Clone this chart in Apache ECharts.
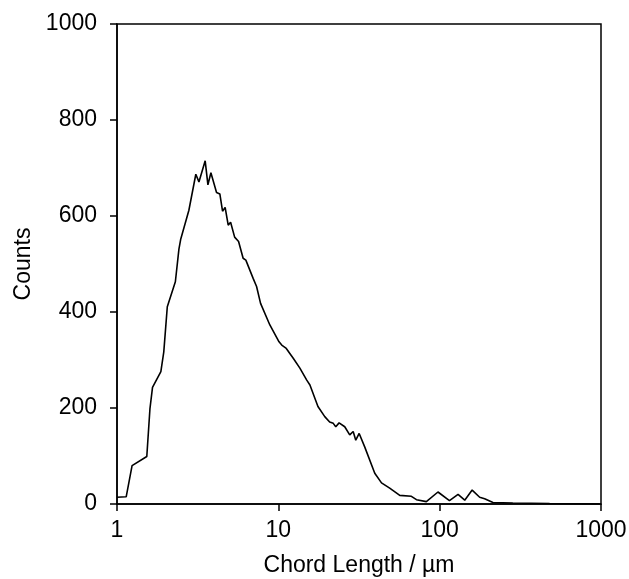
<!DOCTYPE html>
<html>
<head>
<meta charset="utf-8">
<script src="https://cdn.jsdelivr.net/npm/echarts@6/dist/echarts.min.js"></script>
<style>
	html, body { margin: 0; padding: 0; background: #fff; }
	#chart { width: 629px; height: 579px; }
</style>
</head>
<body>
<div id="chart"></div>
<script>
// chord length (µm) and counts
var chordLength = [
	1.00, 1.14, 1.24, 1.53, 1.60, 1.66, 1.87, 1.95, 2.05, 2.30,
	2.42, 2.48, 2.79, 3.08, 3.22, 3.52, 3.66, 3.82, 4.14, 4.34,
	4.51, 4.68, 4.89, 5.06, 5.36, 5.67, 6.05, 6.29, 6.98, 7.33,
	7.76, 8.86, 10.1, 10.5, 11.2, 12.4, 13.6, 15.0, 15.7, 17.6,
	19.4, 20.8, 21.9, 22.7, 23.8, 25.8, 27.7, 29.1, 30.2, 31.7,
	34.3, 39.6, 43.6, 49.0, 56.6, 66.8, 71.8, 82.7, 97.6, 115,
	130, 143, 159, 177, 190, 214, 284, 480, 980
];
var counts = [
	14, 15, 80, 99, 198, 243, 276, 317, 411, 463,
	531, 551, 612, 687, 671, 715, 665, 690, 649, 646,
	610, 618, 581, 587, 556, 547, 512, 508, 470, 453,
	418, 373, 338, 331, 324, 303, 283, 258, 248, 203,
	182, 171, 168, 161, 169, 161, 144, 151, 133, 147,
	119, 64, 44, 33, 18, 16, 9, 5, 25, 7,
	20, 8, 29, 14, 11, 3, 2, 1, 0
];
var yTicks = [0, 200, 400, 600, 800, 1000];

var seriesData = chordLength.map(function (x, i) { return [x, counts[i]]; });

var chart = echarts.init(document.getElementById('chart'));
var font = 'Liberation Sans, Arial, sans-serif';
var plain = function (v) { return String(Math.round(v)); };
var option = {
	animation: false,
	grid: {
		left: 117,
		right: 28,
		top: 24,
		bottom: 75,
		outerBoundsMode: 'none',
		show: true,
		borderColor: '#000',
		borderWidth: 1.5
	},
	xAxis: {
		type: 'log',
		logBase: 10,
		min: 1,
		max: 1000,
		name: 'Chord Length / µm',
		nameLocation: 'middle',
		nameGap: 50,
		nameTextStyle: { color: '#000', fontSize: 23, fontFamily: font },
		axisLine: { lineStyle: { color: '#000', width: 1.5 } },
		axisTick: { show: true, length: 7, lineStyle: { color: '#000', width: 1.5 } },
		minorTick: { show: false },
		splitLine: { show: false },
		axisLabel: { color: '#000', fontSize: 23, fontFamily: font, margin: 15, formatter: plain }
	},
	yAxis: {
		type: 'value',
		min: yTicks[0],
		max: yTicks[yTicks.length - 1],
		interval: 200,
		name: 'Counts',
		nameLocation: 'middle',
		nameGap: 80,
		nameTextStyle: { color: '#000', fontSize: 23, fontFamily: font },
		axisLine: { show: true, lineStyle: { color: '#000', width: 1.5 } },
		axisTick: { show: true, length: 7, lineStyle: { color: '#000', width: 1.5 } },
		splitLine: { show: false },
		axisLabel: { color: '#000', fontSize: 23, fontFamily: font, margin: 20, formatter: plain }
	},
	series: [{
		type: 'line',
		data: seriesData,
		symbol: 'none',
		smooth: false,
		lineStyle: { color: '#000', width: 1.6 }
	}]
};
chart.setOption(option);
</script>
</body>
</html>
